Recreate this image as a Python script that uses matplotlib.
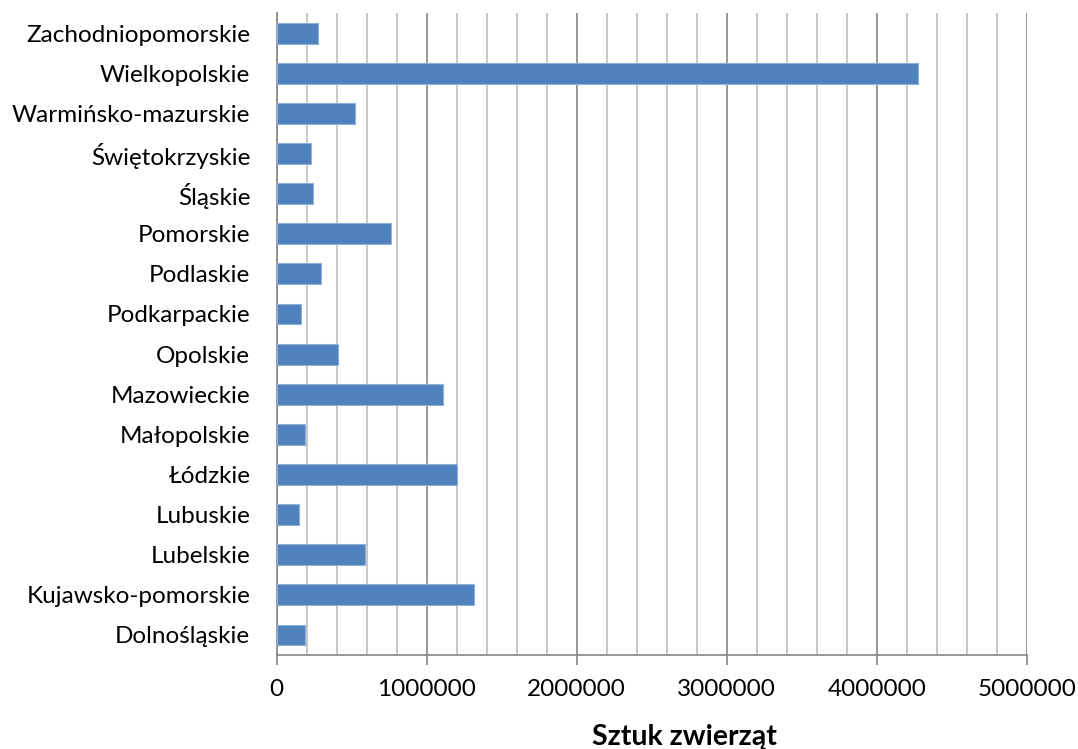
import matplotlib.pyplot as plt
from matplotlib.ticker import MultipleLocator, FormatStrFormatter

wojewodztwa = ["Dolnośląskie", "Kujawsko-pomorskie", "Lubelskie", "Lubuskie",
               "Łódzkie", "Małopolskie", "Mazowieckie", "Opolskie",
               "Podkarpackie", "Podlaskie", "Pomorskie", "Śląskie",
               "Świętokrzyskie", "Warmińsko-mazurskie", "Wielkopolskie",
               "Zachodniopomorskie"]
sztuki = [189000, 1315000, 589000, 149000,
          1200000, 189000, 1111000, 411000,
          160000, 293000, 760000, 242000,
          229000, 520000, 4273000, 277000]

plt.rcParams['font.family'] = ['Lato', 'DejaVu Sans']

fig = plt.figure(figsize=(10.78, 7.49), dpi=100)
ax = fig.add_axes([0.2567, 0.1255, 0.6957, 0.857])

ax.barh(range(len(wojewodztwa)), sztuki, height=0.52, color="#4f81bd",
        edgecolor="#8fb0d9", linewidth=0.8, zorder=3)

ax.set_xlim(0, 5000000)
ax.set_ylim(-0.5, len(wojewodztwa) - 0.5)
ax.xaxis.set_major_locator(MultipleLocator(1000000))
ax.xaxis.set_minor_locator(MultipleLocator(200000))
ax.xaxis.set_major_formatter(FormatStrFormatter("%d"))
ax.grid(axis="x", which="major", color="#868686", linewidth=1.2, zorder=1)
ax.grid(axis="x", which="minor", color="#bebebe", linewidth=1.2, zorder=1)
ax.set_axisbelow(True)

ax.set_yticks(range(len(wojewodztwa)))
ax.set_yticklabels(wojewodztwa, fontsize=17.5)
ax.tick_params(axis="y", length=0, pad=19)
ax.tick_params(axis="x", which="major", length=7, width=1.2, color="#868686",
               direction="out", labelsize=17.5, pad=10)
ax.tick_params(axis="x", which="minor", length=0)

for side in ["top", "right"]:
    ax.spines[side].set_visible(False)
ax.spines["left"].set_color("#868686")
ax.spines["left"].set_linewidth(1.2)
ax.spines["bottom"].set_color("#868686")
ax.spines["bottom"].set_linewidth(1.2)

ax.set_xlabel("Sztuk zwierząt", fontsize=20.5, fontweight="bold")
ax.xaxis.set_label_coords(0.543, -0.107)

fig.savefig("out.png", dpi=100)
